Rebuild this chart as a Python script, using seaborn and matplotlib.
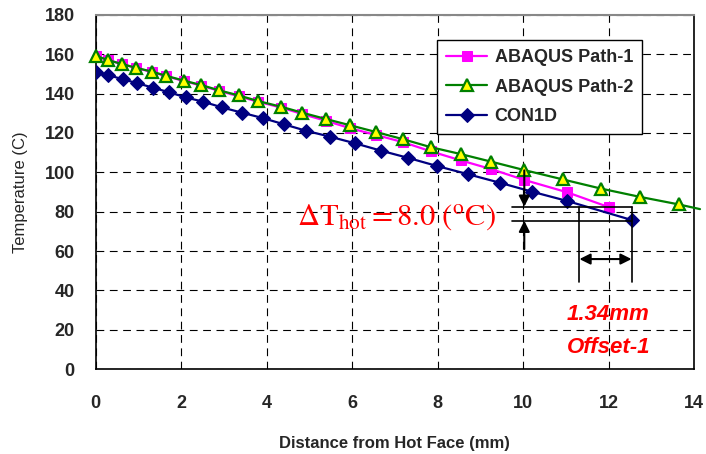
import numpy as np
import pandas as pd
import seaborn as sns
import matplotlib.pyplot as plt

# distance from hot face (mm) and temperature (C)
path1_x = [0.0, 0.29, 0.61, 0.94, 1.32, 1.65, 2.07, 2.47, 2.89, 3.35, 3.81, 4.35,
           4.84, 5.39, 5.96, 6.56, 7.20, 7.84, 8.54, 9.26, 10.02, 11.04, 12.02]
path1_t = [159.3, 157.1, 155.1, 153.1, 151.0, 148.9, 146.4, 144.1, 141.4, 138.7, 135.8, 132.9,
           129.6, 126.2, 122.4, 119.0, 115.3, 110.7, 106.1, 101.6, 96.2, 89.8, 82.2]

path2_x = [0.0, 0.29, 0.61, 0.94, 1.32, 1.65, 2.07, 2.47, 2.89, 3.35, 3.81, 4.35,
           4.84, 5.39, 5.96, 6.56, 7.20, 7.84, 8.54, 9.26, 10.02, 10.93, 11.83, 12.74, 13.64, 14.14]
path2_t = [159.3, 157.1, 155.1, 153.2, 151.2, 149.1, 146.6, 144.4, 141.7, 139.1, 136.2, 133.3,
           130.3, 127.1, 123.9, 120.5, 116.8, 112.8, 109.3, 105.4, 101.2, 96.4, 91.7, 87.5, 83.7, 81.3]

con1d_x = [0.0, 0.30, 0.64, 0.98, 1.35, 1.72, 2.11, 2.52, 2.96, 3.43, 3.91, 4.41,
           4.93, 5.49, 6.08, 6.68, 7.32, 7.99, 8.72, 9.46, 10.22, 11.04, 12.55]
con1d_t = [150.8, 149.4, 147.3, 145.3, 143.0, 140.7, 138.1, 135.9, 133.0, 130.3, 127.6, 124.4,
           121.1, 118.1, 114.7, 111.0, 107.3, 103.2, 99.0, 94.7, 90.1, 85.4, 75.7]

x_ticks = [0, 2, 4, 6, 8, 10, 12, 14]
y_ticks = [0, 20, 40, 60, 80, 100, 120, 140, 160, 180]

sns.set_style("white")
plt.rcParams['font.family'] = ['Liberation Sans', 'DejaVu Sans']
plt.rcParams['mathtext.fontset'] = 'stix'

fig = plt.figure(figsize=(7.06, 4.54), dpi=100)
ax = fig.add_axes([0.1353, 0.1872, 0.983 - 0.1353, 0.967 - 0.1872])

sns.lineplot(x=path1_x, y=path1_t, ax=ax, sort=False, color='#FF00FF', lw=1.6,
             marker='s', markersize=7.5, markeredgecolor='#FF00FF', markerfacecolor='#FF00FF',
             label='ABAQUS Path-1', zorder=3)
sns.lineplot(x=path2_x, y=path2_t, ax=ax, sort=False, color='#008000', lw=1.6,
             marker='^', markersize=9, markeredgecolor='#008000', markerfacecolor='#FFFF00',
             markeredgewidth=1.6, markevery=list(range(len(path2_x) - 1)), clip_on=False,
             label='ABAQUS Path-2', zorder=4)
sns.lineplot(x=con1d_x, y=con1d_t, ax=ax, sort=False, color='#000080', lw=1.6,
             marker='D', markersize=7.5, markeredgecolor='#000080', markerfacecolor='#000080',
             label='CON1D', zorder=5)

ax.set_xlim(0, 14)
ax.set_ylim(0, 180)
ax.set_xticks(x_ticks)
ax.set_yticks(y_ticks)
ax.grid(True, color='black', lw=0.8, linestyle=(0, (7, 5)))
ax.set_axisbelow(True)
for s in ['left', 'bottom', 'right']:
    ax.spines[s].set_color('black')
    ax.spines[s].set_linewidth(1.2)
ax.spines['top'].set_color('#888888')
ax.spines['top'].set_linewidth(1.5)
ax.tick_params(axis='both', direction='out', length=5, width=1, color='black', labelsize=13)
ax.tick_params(axis='x', pad=14)
ax.tick_params(axis='y', pad=10)
for lab in ax.get_xticklabels() + ax.get_yticklabels():
    lab.set_fontweight('bold')

ax.set_xlabel('Distance from Hot Face (mm)', fontsize=12, fontweight='bold', labelpad=17)
ax.set_ylabel('Temperature (C)', fontsize=12, labelpad=12)

leg = ax.legend(loc='upper right', bbox_to_anchor=(0.913, 0.929), borderaxespad=0,
                fancybox=False, edgecolor='black', framealpha=1,
                prop={'size': 13, 'weight': 'bold'},
                handlelength=2.3, labelspacing=0.7, borderpad=0.5, handletextpad=0.4)
leg.get_frame().set_linewidth(1.0)

# offset annotation
ax.plot([9.74, 12.54], [82.5, 82.5], color='black', lw=1.2, zorder=6)
ax.plot([9.74, 12.54], [75.4, 75.4], color='black', lw=1.2, zorder=6)
ax.plot([11.32, 11.32], [82.5, 44.4], color='black', lw=1.2, zorder=6)
ax.plot([12.54, 12.54], [82.5, 44.4], color='black', lw=1.2, zorder=6)
arrow = dict(arrowstyle='-|>', color='black', lw=1.5, mutation_scale=16, shrinkA=0, shrinkB=0)
ax.annotate('', xy=(10.03, 82.5), xytext=(10.03, 101.0), arrowprops=arrow, zorder=7)
ax.annotate('', xy=(10.03, 75.4), xytext=(10.03, 61.0), arrowprops=arrow, zorder=7)
ax.annotate('', xy=(11.32, 55.9), xytext=(12.54, 55.9),
            arrowprops=dict(arrowstyle='<|-|>', color='black', lw=1.5, mutation_scale=16,
                            shrinkA=0, shrinkB=0), zorder=7)

ax.text(7.03, 77.0, r'$\Delta\mathrm{T}_{\mathrm{hot}} = 8.0\ (^{\mathrm{o}}\mathrm{C})$',
        color='red', fontsize=22, ha='center', va='center', zorder=8)
ax.text(12.0, 27.5, '1.34mm', color='red', fontsize=16, fontweight='bold',
        fontstyle='italic', ha='center', va='center')
ax.text(12.0, 10.7, 'Offset-1', color='red', fontsize=16, fontweight='bold',
        fontstyle='italic', ha='center', va='center')

fig.savefig('out.png', dpi=100)
